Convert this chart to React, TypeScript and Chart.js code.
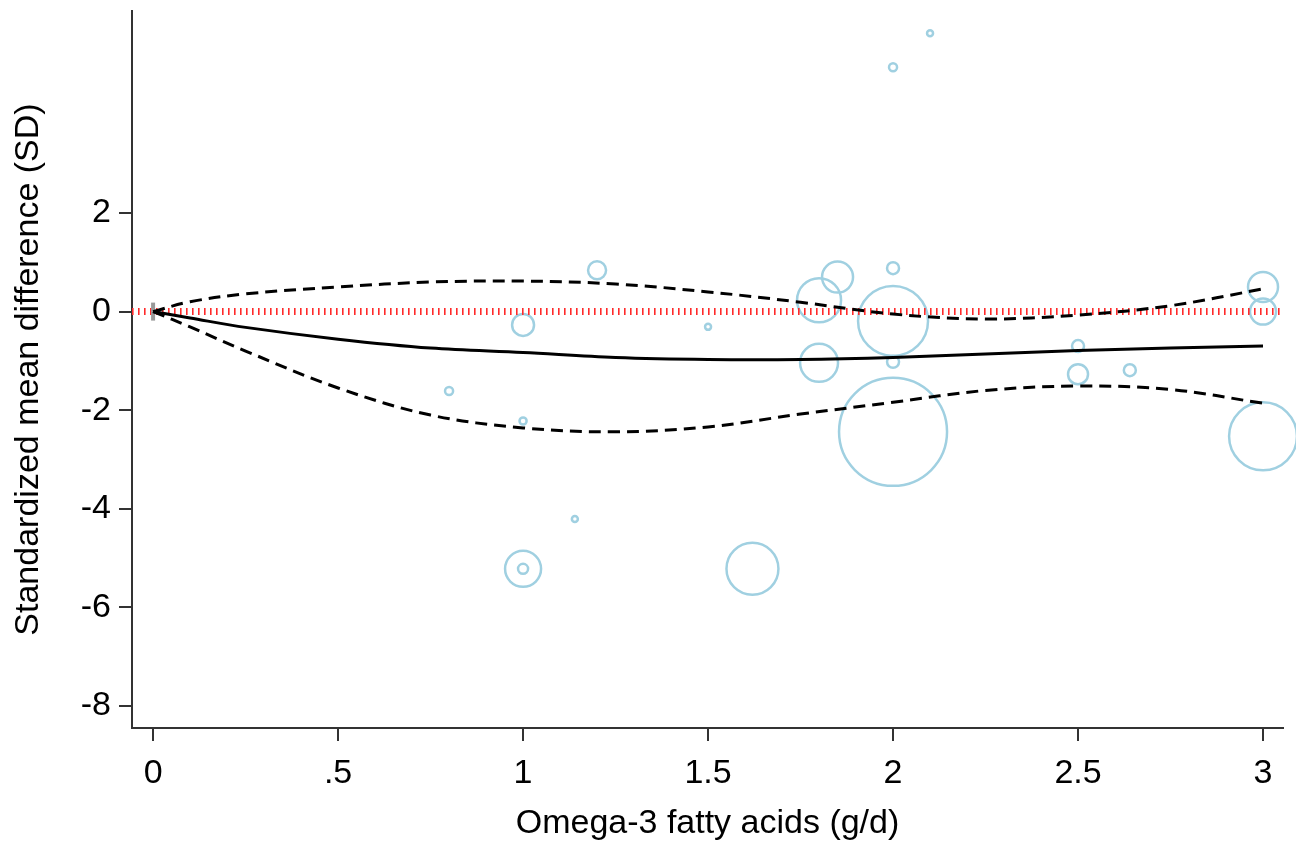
import React, { useEffect, useRef } from "react";
import { Chart, registerables } from "chart.js";

Chart.register(...registerables);

// Study-level data (dose in g/d, standardized mean difference, relative weight)
const studyDose = [2.1, 2.0, 1.2, 1.0, 0.8, 1.0, 1.5, 1.14, 1.0, 1.0, 1.62, 1.8, 1.85, 2.0, 2.0, 1.8, 2.0, 2.0, 2.5, 2.5, 2.64, 3.0, 3.0, 3.0];
const studySmd = [5.65, 4.96, 0.84, -0.27, -1.61, -2.22, -0.31, -4.21, -5.22, -5.22, -5.22, 0.23, 0.7, 0.88, -0.19, -1.04, -1.02, -2.44, -0.7, -1.27, -1.19, 0.5, 0.0, -2.53];
const studyWeight = [1, 1.8, 9, 13.4, 1.8, 1.4, 1, 1, 36, 2.8, 75, 53.8, 26.7, 4, 136, 40, 4, 324, 4, 11.1, 4, 25, 18.8, 128];

// Dose-response curve and its confidence band
const curveDose = [0, 0.1, 0.25, 0.5, 0.75, 1.0, 1.25, 1.5, 1.75, 2.0, 2.25, 2.5, 2.75, 3.0];
const fitSmd = [0, -0.13, -0.32, -0.56, -0.74, -0.83, -0.93, -0.97, -0.97, -0.93, -0.86, -0.79, -0.74, -0.7];
const upperCi = [0, 0.2, 0.36, 0.5, 0.6, 0.62, 0.56, 0.4, 0.19, -0.05, -0.15, -0.07, 0.12, 0.46];
const lowerCi = [0, -0.31, -0.8, -1.55, -2.1, -2.36, -2.44, -2.34, -2.08, -1.84, -1.6, -1.51, -1.58, -1.86];

// Reference point
const refDose = [0];
const refSmd = [0];

// Axes
const xMin = -0.057;
const xMax = 3.054;
const yMin = -8.45;
const yMax = 6.1;
const xTickValues = [0, 0.5, 1, 1.5, 2, 2.5, 3];
const xTickLabels = ["0", ".5", "1", "1.5", "2", "2.5", "3"];
const yTickValues = [-8, -6, -4, -2, 0, 2];
const yTickLabels = ["-8", "-6", "-4", "-2", "0", "2"];
const xTitle = "Omega-3 fatty acids (g/d)";
const yTitle = "Standardized mean difference (SD)";

export default function App() {
  const canvasRef = useRef<HTMLCanvasElement | null>(null);

  useEffect(() => {
    if (!canvasRef.current) return;
    const font = { family: "'Liberation Sans', Arial, sans-serif", size: 34 };
    const axisColor = "#333333";
    const pts = (xs: number[], ys: number[]) => xs.map((x, i) => ({ x, y: ys[i] }));

    const chart = new Chart(canvasRef.current, {
      type: "bubble",
      data: {
        datasets: [
          {
            type: "line",
            data: pts(curveDose, fitSmd),
            borderColor: "#000",
            borderWidth: 3,
            pointRadius: 0,
            tension: 0.35,
            fill: false,
            order: 0,
          } as any,
          {
            type: "line",
            data: pts(curveDose, upperCi),
            borderColor: "#000",
            borderWidth: 3,
            borderDash: [12, 7],
            pointRadius: 0,
            tension: 0.35,
            fill: false,
            order: 0,
          } as any,
          {
            type: "line",
            data: pts(curveDose, lowerCi),
            borderColor: "#000",
            borderWidth: 3,
            borderDash: [12, 7],
            pointRadius: 0,
            tension: 0.35,
            fill: false,
            order: 0,
          } as any,
          {
            type: "scatter",
            data: pts(refDose, refSmd),
            pointStyle: "line",
            rotation: 90,
            radius: 9,
            borderColor: "#999999",
            backgroundColor: "#999999",
            borderWidth: 4,
            order: 1,
          } as any,
          {
            type: "line",
            data: [
              { x: xMin, y: 0 },
              { x: xMax, y: 0 },
            ],
            borderColor: "#ff2a2a",
            borderWidth: 7,
            borderDash: [1.6, 4.4],
            pointRadius: 0,
            fill: false,
            order: 2,
          } as any,
          {
            type: "bubble",
            data: studyDose.map((x, i) => ({ x, y: studySmd[i], r: 3 * Math.sqrt(studyWeight[i]) })),
            backgroundColor: "rgba(0,0,0,0)",
            borderColor: "rgb(160,208,225)",
            borderWidth: 2.5,
            clip: false,
            order: 3,
          } as any,
        ],
      },
      options: {
        animation: false,
        responsive: false,
        devicePixelRatio: 1,
        layout: { autoPadding: false, padding: { left: 0, right: 13, top: 11, bottom: 0 } },
        plugins: { legend: { display: false }, tooltip: { enabled: false } },
        scales: {
          x: {
            type: "linear",
            min: xMin,
            max: xMax,
            afterBuildTicks: (s: any) => {
              s.ticks = xTickValues.map((v) => ({ value: v }));
            },
            afterFit: (s: any) => {
              s.height = 118;
              s.paddingLeft = 0;
              s.paddingRight = 0;
            },
            ticks: {
              autoSkip: false,
              maxRotation: 0,
              padding: 12,
              color: "#000",
              font,
              callback: (v: any) => {
                const i = xTickValues.indexOf(Number(v));
                return i >= 0 ? xTickLabels[i] : "";
              },
            },
            grid: {
              drawOnChartArea: false,
              drawTicks: true,
              tickLength: 13,
              tickColor: axisColor,
              tickWidth: 2,
              lineWidth: 2,
            },
            border: { display: true, color: axisColor, width: 2 },
            title: {
              display: true,
              text: xTitle,
              color: "#000",
              font,
              padding: { top: 0, bottom: 2 },
            },
          },
          y: {
            type: "linear",
            min: yMin,
            max: yMax,
            afterBuildTicks: (s: any) => {
              s.ticks = yTickValues.map((v) => ({ value: v }));
            },
            afterFit: (s: any) => {
              s.width = 132;
              s.paddingTop = 0;
              s.paddingBottom = 0;
            },
            ticks: {
              autoSkip: false,
              padding: 8,
              color: "#000",
              font,
              callback: (v: any) => {
                const i = yTickValues.indexOf(Number(v));
                return i >= 0 ? yTickLabels[i] : "";
              },
            },
            grid: {
              drawOnChartArea: false,
              drawTicks: true,
              tickLength: 13,
              tickColor: axisColor,
              tickWidth: 2,
              lineWidth: 2,
            },
            border: { display: true, color: axisColor, width: 2 },
            title: {
              display: true,
              text: yTitle,
              color: "#000",
              font,
              padding: { top: 8, bottom: 0 },
            },
          },
        },
      } as any,
    });
    return () => chart.destroy();
  }, []);

  return (
    <div style={{ position: "fixed", left: 0, top: 0, width: 1296, height: 846, background: "#fff" }}>
      <canvas ref={canvasRef} width={1296} height={846} style={{ display: "block" }} />
    </div>
  );
}
